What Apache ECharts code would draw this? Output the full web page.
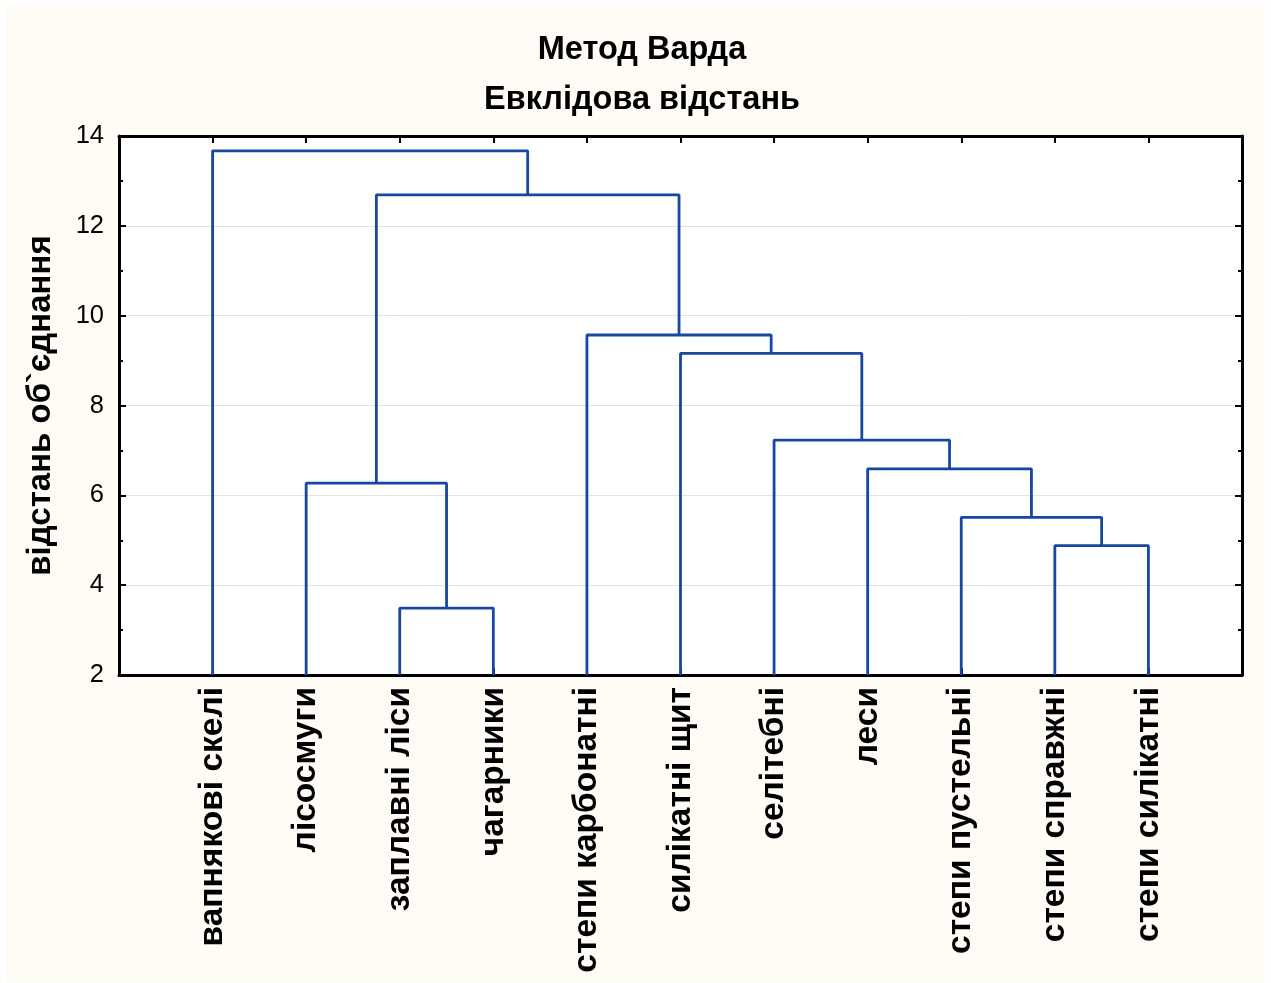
<!DOCTYPE html>
<html>
<head>
<meta charset="utf-8">
<script src="https://cdn.jsdelivr.net/npm/echarts@6/dist/echarts.min.js"></script>
<style>
  html, body { margin: 0; padding: 0; background: #ffffff; }
  #chart { position: absolute; left: 6px; top: 5px; width: 1259px; height: 977px; background: #FFFCF5; }
</style>
</head>
<body>
<div id="chart"></div>
<script>
// Leaves in dendrogram order
const leaves = ['вапнякові скелі', 'лісосмуги', 'заплавні ліси', 'чагарники', 'степи карбонатні',
  'силікатні щит', 'селітебні', 'леси', 'степи пустельні', 'степи справжні', 'степи силікатні'];
// Merge steps: children ids (0..10 leaves, 11+ merged clusters in order) and linkage distances
const mergeLeft  = [2, 9, 8, 1, 7, 6, 5, 4, 14, 0];
const mergeRight = [3, 10, 12, 11, 13, 15, 16, 17, 18, 19];
const mergeHeight = [3.49, 4.88, 5.51, 6.27, 6.59, 7.23, 9.16, 9.57, 12.69, 13.67];
const yTicks = [2, 4, 6, 8, 10, 12, 14];
const baseY = 2;

const FONT = "'Liberation Sans', Arial, sans-serif";
const LINE = '#1747A0';

// node positions
const nodeX = leaves.map((_, i) => i + 1);
const nodeY = leaves.map(() => baseY);
const series = [];
for (let k = 0; k < mergeHeight.length; k++) {
  const a = mergeLeft[k], b = mergeRight[k], h = mergeHeight[k];
  series.push({
    type: 'line',
    data: [[nodeX[a], nodeY[a]], [nodeX[a], h], [nodeX[b], h], [nodeX[b], nodeY[b]]],
    symbol: 'none',
    lineStyle: { color: LINE, width: 2.8 },
    silent: true,
    animation: false,
    z: 3
  });
  nodeX.push((nodeX[a] + nodeX[b]) / 2);
  nodeY.push(h);
}

const chart = echarts.init(document.getElementById('chart'));
const axisLineStyle = { color: '#000', width: 3 };
chart.setOption({
  backgroundColor: '#FFFCF5',
  animation: false,
  title: {
    text: 'Метод Варда\nЕвклідова відстань',
    left: 631, top: 15, textAlign: 'center',
    textStyle: { fontFamily: FONT, fontSize: 32.5, fontWeight: 'bold', color: '#000', lineHeight: 50 }
  },
  grid: { left: 113, top: 131, width: 1123, height: 539, backgroundColor: '#ffffff', show: true, borderWidth: 0 },
  xAxis: [{
    type: 'value', position: 'bottom', min: 0, max: leaves.length + 1, interval: 1,
    axisLine: { show: true, onZero: false, lineStyle: axisLineStyle },
    axisTick: { show: true, inside: true, length: 7, lineStyle: { color: '#000', width: 2 } },
    splitLine: { show: false },
    axisLabel: {
      rotate: 90, margin: 12, fontFamily: FONT, fontSize: 33.5, fontWeight: 'bold', color: '#000',
      formatter: v => (v >= 1 && v <= leaves.length ? leaves[v - 1] : '')
    }
  }, {
    type: 'value', position: 'top', min: 0, max: leaves.length + 1, interval: 1,
    axisLine: { show: true, onZero: false, lineStyle: axisLineStyle },
    axisTick: { show: true, inside: true, length: 7, lineStyle: { color: '#000', width: 2 } },
    splitLine: { show: false },
    axisLabel: { show: false }
  }],
  yAxis: [{
    type: 'value', position: 'left', min: yTicks[0], max: yTicks[yTicks.length - 1], interval: 2,
    name: 'відстань об`єднання', nameLocation: 'middle', nameRotate: 90, nameGap: 62,
    nameTextStyle: { fontFamily: FONT, fontSize: 33, fontWeight: 'bold', color: '#000' },
    axisLine: { show: true, onZero: false, lineStyle: axisLineStyle },
    axisTick: { show: true, inside: true, length: 7, lineStyle: { color: '#000', width: 2 } },
    minorTick: { show: true, splitNumber: 2, length: 4, lineStyle: { color: '#000', width: 2 } },
    splitLine: { show: true, lineStyle: { color: '#e2e2e2', width: 1 } },
    axisLabel: { margin: 15, fontFamily: FONT, fontSize: 25.5, color: '#000', formatter: v => String(v) }
  }, {
    type: 'value', position: 'right', min: yTicks[0], max: yTicks[yTicks.length - 1], interval: 2,
    axisLine: { show: true, onZero: false, lineStyle: axisLineStyle },
    axisTick: { show: true, inside: true, length: 7, lineStyle: { color: '#000', width: 2 } },
    minorTick: { show: true, splitNumber: 2, length: 4, lineStyle: { color: '#000', width: 2 } },
    splitLine: { show: false },
    axisLabel: { show: false }
  }],
  series: series
});
</script>
</body>
</html>
